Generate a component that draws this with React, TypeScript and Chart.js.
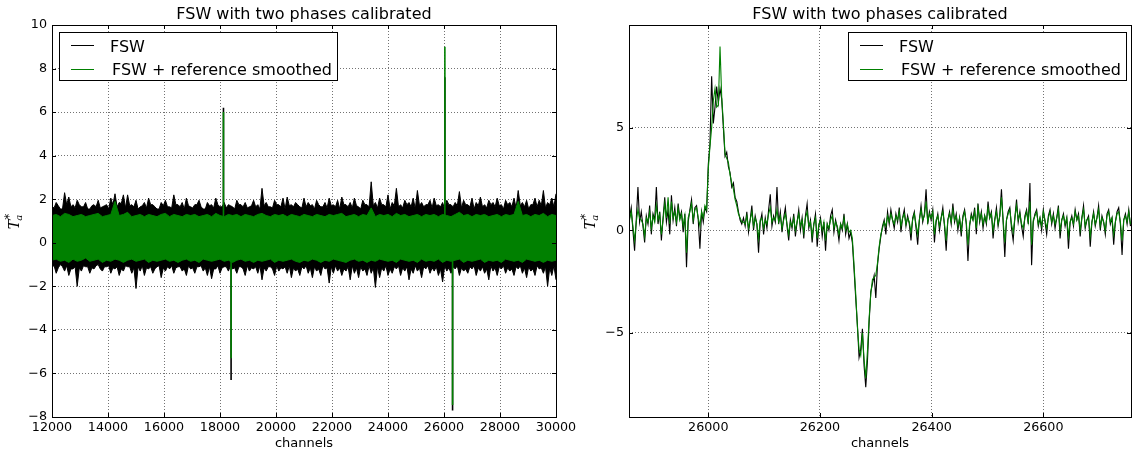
import React, { useEffect, useRef } from 'react';
import { Chart, registerables } from 'chart.js';

Chart.register(...registerables);

const FONT = '"DejaVu Sans", sans-serif';
const BLACK = '#000000';
const GREEN = '#008000';
const GRID_COLOR = 'rgba(0,0,0,0.55)';

const TITLE = 'FSW with two phases calibrated';
const X_LABEL = 'channels';
const SERIES_LABELS = ['FSW', 'FSW + reference smoothed'];

// ---------- Left panel: full spectrum, drawn as the envelope of the noise band ----------
const leftXTicks = [12000, 14000, 16000, 18000, 20000, 22000, 24000, 26000, 28000, 30000];
const leftYTicks = [-8, -6, -4, -2, 0, 2, 4, 6, 8, 10];

// FSW envelope, one value per 75 channels from 12000
const leftFswStart = 12000;
const leftFswStep = 75;
const leftFswHigh = [
  1.65, 1.6, 1.85, 1.7, 1.55, 1.55, 2.3, 1.75, 2.1, 1.65, 1.75, 1.6, 1.95, 1.75, 1.65, 1.65, 1.85, 1.55, 1.55, 1.7,
  1.75, 1.65, 1.95, 1.6, 1.65, 1.7, 1.75, 1.55, 2.05, 1.75, 2.25, 1.65, 1.85, 1.8, 2.2, 1.6, 2.2, 1.7, 1.75, 1.65,
  1.95, 1.55, 1.65, 1.7, 1.85, 1.6, 2.05, 1.75, 1.75, 1.65, 1.55, 1.55, 1.85, 1.7, 1.95, 1.65, 1.65, 1.6, 2.2, 1.75,
  1.75, 1.65, 1.85, 1.55, 2.05, 1.7, 1.65, 1.6, 1.75, 1.75, 1.95, 1.65, 1.55, 1.55, 1.85, 1.7, 1.75, 1.6, 2.05, 1.75,
  1.65, 1.65, 1.85, 1.6, 1.75, 1.7, 1.65, 1.55, 1.95, 1.75, 1.75, 1.65, 1.85, 1.6, 1.65, 1.7, 1.95, 1.65, 1.75, 1.55,
  2.5, 1.7, 1.85, 1.65, 1.65, 1.6, 1.95, 1.75, 1.75, 1.65, 2.05, 1.55, 2.1, 1.7, 1.75, 1.65, 1.85, 1.75, 1.65, 1.6,
  2.05, 1.65, 1.85, 1.7, 1.75, 1.55, 1.95, 1.75, 1.65, 1.65, 1.85, 1.6, 2.05, 1.7, 1.75, 1.65, 1.95, 1.55, 2.1, 1.75,
  1.75, 1.65, 1.85, 1.6, 2.05, 1.7, 1.65, 1.55, 1.95, 1.75, 1.75, 1.65, 2.8, 1.7, 1.85, 1.6, 2.05, 1.75, 1.75, 1.65,
  2.2, 1.55, 1.85, 1.7, 2.5, 1.65, 1.75, 1.6, 1.95, 1.75, 1.85, 1.65, 2.05, 1.55, 2.4, 1.7, 1.85, 1.65, 1.75, 1.75,
  1.95, 1.6, 2.05, 1.7, 1.75, 1.65, 1.85, 1.55, 1.95, 1.75, 1.75, 1.65, 1.85, 1.7, 2.35, 1.6, 1.95, 1.75, 1.75, 1.65,
  2.05, 1.55, 1.85, 1.7, 2.1, 1.65, 1.75, 1.6, 1.95, 1.75, 1.85, 1.65, 2.05, 1.7, 1.75, 1.55, 1.95, 1.75, 1.85, 1.65,
  2.05, 1.6, 2.4, 1.7, 1.85, 1.65, 1.95, 1.55, 1.75, 1.75, 2.05, 1.65, 1.95, 1.7, 2.4, 1.6, 1.85, 1.75, 2.05, 1.65,
  2.25,
];
const leftFswLow = [
  -1.1, -1.05, -1.4, -1.15, -1.0, -1.1, -1.3, -1.05, -1.5, -1.2, -1.2, -1.1, -2.0, -1.15, -1.3, -1.05, -1.1, -1.1, -1.4, -1.15,
  -1.2, -1.05, -1.0, -1.2, -1.3, -1.1, -1.1, -1.05, -1.4, -1.15, -1.2, -1.1, -1.5, -1.2, -1.3, -1.05, -1.1, -1.1, -1.4, -1.15,
  -2.1, -1.1, -1.3, -1.05, -1.5, -1.15, -1.2, -1.1, -1.4, -1.2, -1.1, -1.05, -1.6, -1.15, -1.3, -1.1, -1.2, -1.05, -1.4, -1.15,
  -1.1, -1.1, -1.3, -1.2, -1.5, -1.05, -1.2, -1.15, -1.4, -1.1, -1.1, -1.05, -1.3, -1.15, -1.5, -1.1, -1.65, -1.2, -1.2, -1.05,
  -1.4, -1.15, -1.1, -1.1, -1.3, -1.05, -1.2, -1.15, -1.4, -1.1, -1.1, -1.2, -1.5, -1.05, -1.3, -1.15, -1.2, -1.1, -1.4, -1.05,
  -1.7, -1.15, -1.3, -1.1, -1.1, -1.2, -1.5, -1.05, -1.3, -1.15, -1.2, -1.1, -1.4, -1.05, -1.6, -1.15, -1.3, -1.2, -1.5, -1.1,
  -1.2, -1.05, -1.4, -1.15, -1.6, -1.1, -1.3, -1.2, -1.5, -1.05, -1.2, -1.15, -1.85, -1.1, -1.4, -1.05, -1.3, -1.15, -1.5, -1.2,
  -1.3, -1.1, -1.7, -1.05, -1.4, -1.15, -1.6, -1.1, -1.3, -1.2, -1.5, -1.05, -1.4, -1.15, -2.05, -1.1, -1.6, -1.15, -1.3, -1.05,
  -1.5, -1.2, -1.4, -1.1, -1.2, -1.05, -1.5, -1.15, -1.3, -1.1, -1.7, -1.2, -1.4, -1.05, -1.3, -1.15, -1.6, -1.1, -1.2, -1.05,
  -1.4, -1.15, -1.3, -1.1, -1.5, -1.2, -1.8, -1.05, -1.3, -1.15, -1.4, -1.1, -1.2, -1.05, -1.5, -1.15, -1.3, -1.2, -1.4, -1.1,
  -1.2, -1.05, -1.5, -1.15, -1.3, -1.1, -1.4, -1.2, -1.7, -1.05, -1.3, -1.15, -1.5, -1.1, -1.2, -1.05, -1.4, -1.15, -1.3, -1.2,
  -1.5, -1.1, -1.2, -1.05, -1.4, -1.15, -1.6, -1.1, -1.3, -1.2, -1.5, -1.05, -1.2, -1.15, -1.4, -1.1, -2.0, -1.15, -1.5, -1.05,
  -1.7,
];

// Smoothed envelope, one value per 150 channels from 12000
const leftSmoothStart = 12000;
const leftSmoothStep = 150;
const leftSmoothHigh = [
  1.25, 1.3, 1.2, 1.35, 1.3, 1.2, 1.25, 1.3, 1.2, 1.25,
  1.3, 1.35, 1.2, 1.25, 1.3, 1.9, 1.25, 1.3, 1.4, 1.2,
  1.25, 1.3, 1.2, 1.3, 1.25, 1.2, 1.3, 1.35, 1.2, 1.3,
  1.25, 1.2, 1.3, 1.25, 1.3, 1.2, 1.25, 1.3, 1.2, 1.35,
  1.25, 1.2, 1.3, 1.25, 1.3, 1.2, 1.3, 1.25, 1.2, 1.3,
  1.35, 1.25, 1.2, 1.3, 1.25, 1.3, 1.2, 1.3, 1.25, 1.2,
  1.3, 1.25, 1.2, 1.3, 1.25, 1.2, 1.3, 1.25, 1.3, 1.35,
  1.2, 1.25, 1.3, 1.2, 1.3, 1.25, 1.6, 1.2, 1.3, 1.25,
  1.3, 1.2, 1.35, 1.25, 1.3, 1.2, 1.25, 1.3, 1.2, 1.3,
  1.25, 1.3, 1.2, 1.3, 1.25, 1.2, 1.3, 1.4, 1.25, 1.3,
  1.2, 1.3, 1.25, 1.3, 1.2, 1.25, 1.3, 1.2, 1.3, 1.25,
  1.3, 1.9, 1.25, 1.3, 1.2, 1.3, 1.25, 1.35, 1.2, 1.3,
  1.25,
];
const leftSmoothLow = [
  -0.8, -0.75, -0.85, -0.8, -0.9, -0.75, -0.85, -0.8, -0.7, -0.85,
  -0.8, -0.75, -0.9, -0.8, -0.85, -0.75, -0.8, -0.9, -0.8, -0.75,
  -0.85, -0.8, -0.75, -0.9, -0.8, -0.85, -0.8, -0.75, -0.85, -0.8,
  -0.9, -0.8, -0.75, -0.85, -0.8, -0.9, -0.75, -0.8, -0.85, -0.8,
  -0.75, -0.85, -0.8, -0.9, -0.8, -0.75, -0.85, -0.8, -0.9, -0.8,
  -0.85, -0.8, -0.75, -0.9, -0.8, -0.85, -0.8, -0.75, -0.85, -0.9,
  -0.8, -0.85, -0.75, -0.8, -0.9, -0.8, -0.85, -0.75, -0.8, -0.85,
  -0.9, -0.8, -0.75, -0.85, -0.8, -0.9, -0.8, -0.85, -0.75, -0.8,
  -0.85, -0.8, -0.9, -0.75, -0.8, -0.85, -0.8, -0.9, -0.75, -0.85,
  -0.8, -0.85, -0.75, -0.9, -0.8, -0.85, -0.8, -0.75, -0.9, -0.8,
  -0.85, -0.8, -0.75, -0.9, -0.8, -0.85, -0.8, -0.9, -0.75, -0.8,
  -0.85, -0.8, -0.9, -0.75, -0.8, -0.85, -0.8, -0.9, -0.8, -0.85,
  -0.8,
];

// Narrow line features that stick out of the noise band (channel, peak value)
const spikeChannels = [18124, 18396, 26031, 26306];
const spikeFsw = [6.2, -6.3, 7.6, -7.7];
const spikeSmooth = [6.0, -5.3, 9.0, -7.45];

// ---------- Right panel: zoom on 25858..26757, every 3rd channel from 25859 ----------
const rightXTicks = [26000, 26200, 26400, 26600];
const rightYTicks = [-5, 0, 5];
const rightStart = 25859;
const rightStep = 3;

const rightFsw = [
  // 25859 .. 25997
  0.6, 1.1, 0.0, -1.0, 0.5, 2.1, 0.4, 0.9, 0.2, -0.6,
  0.7, 0.3, 1.2, -0.2, 0.8, 0.5, 2.1, 0.3, 0.9, -0.5,
  0.6, 1.6, 0.4, 1.0, -0.2, 1.7, 0.5, 1.1, 0.2, 1.3,
  0.6, 0.9, -0.1, 0.8, -1.8, 0.4, 1.0, 1.5, 0.3, 1.1,
  1.2, 0.5, -0.9, 0.9, 0.4, 1.1, 0.9,
  // 26000 .. 26060
  3.2, 4.2, 7.5, 5.2, 6.0, 7.0, 6.2, 6.9, 6.4, 5.0,
  3.6, 3.8, 3.1, 2.8, 2.1, 2.3, 1.6, 1.4, 0.9, 0.5, 0.3,
  // 26063 .. 26255
  0.6, 0.2, 0.9, -0.1, 0.5, 1.2, 0.0, 0.7, 0.3, -1.1,
  0.4, 0.8, -0.2, 0.6, 0.1, 1.0, 1.75, 0.2, 0.7, 0.4,
  2.1, 0.3, 0.9, -0.1, 0.6, 1.1, 0.2, -0.5, 0.5, 0.1,
  0.8, -0.3, 0.4, 1.0, 0.0, 0.6, -0.4, 0.7, 1.3, 0.1,
  0.5, -0.6, 0.3, 0.8, -0.8, 0.2, 0.6, -0.3, 0.4, -1.0,
  0.3, 0.0, 0.7, 1.0, -0.1, 0.5, 0.1, -0.5, 0.3, 0.0,
  0.8, -0.2, 0.3, -0.4, -0.1,
  // 26258 .. 26321
  -0.6, -1.9, -3.3, -4.6, -6.2, -5.8, -4.8, -6.6, -7.65, -6.4,
  -4.5, -3.0, -2.6, -2.2, -3.3, -1.7, -0.9, -0.3, 0.2, 0.5, -0.2, 0.9,
  // 26324 .. 26756
  0.3, 1.0, 0.5, 0.1, 0.8, 0.4, 1.1, -0.1, 0.6, 1.0,
  0.2, 0.7, 0.3, -0.5, 0.6, 0.9, 0.1, -0.7, 0.5, 1.2,
  0.4, 0.8, 2.0, 0.3, 0.9, 0.5, 1.0, -0.6, 0.4, 0.8,
  0.0, 0.6, 1.1, 0.2, -1.0, 0.5, 0.9, 0.3, 1.3, 0.4,
  0.8, 0.0, 0.6, -0.3, 0.7, 1.0, 0.3, -1.5, 0.2, 0.8,
  0.5, 1.1, -0.2, 1.3, 0.4, 0.9, 0.1, 0.7, 0.3, 1.4,
  0.6, 0.9, -0.4, 0.5, 1.1, 0.2, 0.7, 2.0, 0.4, -1.3,
  0.5, 0.9, 1.1, 0.1, -0.5, 0.6, 1.5, 0.4, 0.9, 0.2,
  -0.3, 0.7, 1.0, 0.3, 2.3, -1.7, 0.4, 0.8, 1.0, 0.2,
  0.6, 0.0, 1.0, 0.4, -0.2, 0.7, 1.0, 0.3, 0.8, 0.1,
  0.6, 1.2, -0.4, 0.5, 0.8, 0.2, 0.6, -0.9, 0.4, 0.7,
  0.2, 1.0, 0.5, 0.8, -0.3, 0.6, 1.2, 0.1, 0.5, 0.7,
  -0.8, 0.4, 0.9, 0.2, 0.6, 1.2, 0.0, 0.7, 0.4, -0.2,
  0.8, 1.0, 0.3, 0.6, -0.7, 0.4, 0.9, 1.1, 0.3, -1.2,
  0.5, 0.8, 0.3, 1.0, 0.2,
];
const rightSmooth = [
  // 25859 .. 25997
  0.5, 0.9, 0.2, -0.5, 0.4, 1.0, 0.6, 0.5, 0.3, -0.3,
  0.6, 0.4, 0.9, 0.1, 0.7, 0.4, 1.2, 0.5, 0.8, -0.2,
  0.5, 1.3, 0.6, 1.6, 0.3, 1.4, 0.6, 0.9, 0.4, 1.1,
  0.5, 0.8, 0.2, 0.7, -1.1, 0.6, 0.9, 1.3, 0.5, 1.0,
  1.1, 0.6, 0.2, 0.9, 0.6, 1.2, 1.0,
  // 26000 .. 26060
  3.0, 4.1, 5.0, 6.3, 6.9, 6.0, 6.1, 8.95, 6.5, 5.2,
  3.7, 3.5, 3.3, 2.7, 2.3, 2.0, 1.5, 1.2, 0.8, 0.6, 0.4,
  // 26063 .. 26255
  0.4, 0.3, 0.7, 0.1, 0.5, 0.9, 0.2, 0.6, 0.3, -0.4,
  0.5, 0.6, 0.1, 0.5, 0.3, 0.8, 1.1, 0.4, 0.6, 0.5,
  1.0, 0.4, 0.7, 0.1, 0.5, 0.8, 0.3, -0.2, 0.4, 0.2,
  0.6, 0.0, 0.4, 0.8, 0.2, 0.5, -0.1, 0.6, 0.9, 0.2,
  0.4, -0.3, 0.3, 0.6, -0.4, 0.3, 0.5, 0.0, 0.4, -0.5,
  0.3, 0.1, 0.5, 0.7, 0.1, 0.4, 0.2, -0.2, 0.3, 0.1,
  0.6, 0.0, 0.3, -0.1, 0.0,
  // 26258 .. 26321
  -0.4, -1.7, -3.1, -4.7, -5.8, -6.1, -5.0, -6.3, -7.2, -5.9,
  -4.3, -3.1, -2.4, -2.3, -2.2, -1.6, -0.8, -0.2, 0.1, 0.4, 0.2, 0.7,
  // 26324 .. 26756
  0.4, 0.8, 0.5, 0.3, 0.7, 0.5, 0.9, 0.2, 0.6, 0.8,
  0.3, 0.6, 0.4, -0.1, 0.5, 0.8, 0.3, -0.2, 0.5, 1.0,
  0.5, 0.7, 1.4, 0.4, 0.8, 0.6, 0.9, -0.2, 0.5, 0.7,
  0.2, 0.6, 0.9, 0.3, -0.5, 0.5, 0.8, 0.4, 1.0, 0.5,
  0.7, 0.2, 0.6, 0.0, 0.6, 0.9, 0.4, -0.7, 0.3, 0.7,
  0.5, 0.9, 0.1, 1.1, 0.5, 0.8, 0.3, 0.7, 0.4, 1.1,
  0.6, 0.8, 0.0, 0.5, 0.9, 0.3, 0.7, 1.6, 0.5, -0.6,
  0.5, 0.8, 1.0, 0.3, -0.1, 0.6, 1.2, 0.5, 0.8, 0.3,
  0.1, 0.6, 0.9, 0.4, 1.4, -0.7, 0.5, 0.7, 0.9, 0.3,
  0.6, 0.2, 0.9, 0.5, 0.1, 0.6, 0.9, 0.4, 0.7, 0.3,
  0.6, 1.0, 0.0, 0.5, 0.7, 0.3, 0.6, -0.3, 0.4, 0.6,
  0.3, 0.9, 0.5, 0.7, 0.0, 0.6, 1.0, 0.2, 0.5, 0.6,
  -0.3, 0.4, 0.8, 0.3, 0.6, 1.0, 0.2, 0.6, 0.4, 0.0,
  0.7, 0.9, 0.4, 0.6, -0.2, 0.4, 0.8, 0.9, 0.4, -0.5,
  0.5, 0.7, 0.4, 0.9, 0.3,
];

// ---------- helpers ----------
const seriesPoints = (ys: number[], start: number, step: number) =>
  ys.map((y, i) => ({ x: start + i * step, y }));

const spikePoints = (peaks: number[]) => {
  const out: { x: number; y: number | null }[] = [];
  spikeChannels.forEach((c, i) => {
    out.push({ x: c, y: 0 }, { x: c, y: peaks[i] }, { x: c, y: null });
  });
  return out;
};

const fmtNum = (v: number) => (v < 0 ? '\u2212' + Math.abs(v) : String(v));

function drawYLabel(ctx: CanvasRenderingContext2D, cx: number, cy: number) {
  ctx.save();
  ctx.translate(cx, cy);
  ctx.rotate(-Math.PI / 2);
  ctx.fillStyle = BLACK;
  ctx.textBaseline = 'alphabetic';
  ctx.textAlign = 'left';
  const big = 'italic 14px "DejaVu Serif", serif';
  const small = 'italic 10px "DejaVu Serif", serif';
  ctx.font = big;
  const wT = ctx.measureText('T').width;
  ctx.font = small;
  const wa = ctx.measureText('a').width;
  const total = wT + wa + 1;
  const x0 = -total / 2;
  const base = 4;
  ctx.font = big;
  ctx.fillText('T', x0, base);
  ctx.font = small;
  ctx.fillText('a', x0 + wT - 1, base + 3);
  ctx.font = '12px "DejaVu Sans", sans-serif';
  ctx.fillText('*', x0 + wT, base - 6);
  ctx.restore();
}

type DecorCfg = {
  xTicks: number[];
  yTicks: number[];
  legendX: number;
  legendY: number;
};

function makeDecor(cfg: DecorCfg) {
  return {
    id: 'decor',
    afterDatasetsDraw(chart: any) {
      const ctx: CanvasRenderingContext2D = chart.ctx;
      const a = chart.chartArea;
      const sx = chart.scales.x;
      const sy = chart.scales.y;
      const L = Math.round(a.left);
      const R = Math.round(a.right);
      const T = Math.round(a.top);
      const B = Math.round(a.bottom);
      ctx.save();
      ctx.setLineDash([]);
      ctx.strokeStyle = BLACK;
      ctx.lineWidth = 1;
      // inward tick marks on all four sides
      ctx.beginPath();
      for (const v of cfg.xTicks) {
        const p = Math.round(sx.getPixelForValue(v)) + 0.5;
        ctx.moveTo(p, B);
        ctx.lineTo(p, B - 4);
        ctx.moveTo(p, T);
        ctx.lineTo(p, T + 4);
      }
      for (const v of cfg.yTicks) {
        const p = Math.round(sy.getPixelForValue(v)) + 0.5;
        ctx.moveTo(L, p);
        ctx.lineTo(L + 4, p);
        ctx.moveTo(R, p);
        ctx.lineTo(R - 4, p);
      }
      ctx.stroke();
      // frame
      ctx.strokeRect(L + 0.5, T + 0.5, R - L, B - T);

      // legend
      const bx = cfg.legendX;
      const by = cfg.legendY;
      const bw = 278;
      const bh = 48;
      ctx.fillStyle = '#ffffff';
      ctx.fillRect(bx, by, bw + 1, bh + 1);
      ctx.strokeStyle = BLACK;
      ctx.strokeRect(bx + 0.5, by + 0.5, bw, bh);
      const rows = [
        { label: SERIES_LABELS[0], color: BLACK, ly: by + 13.5, tx: bx + 51, ty: by + 19.7 },
        { label: SERIES_LABELS[1], color: GREEN, ly: by + 37.5, tx: bx + 53, ty: by + 43.2 },
      ];
      ctx.font = '16px ' + FONT;
      ctx.textAlign = 'left';
      ctx.textBaseline = 'alphabetic';
      for (const r of rows) {
        ctx.strokeStyle = r.color;
        ctx.beginPath();
        ctx.moveTo(bx + 12, r.ly);
        ctx.lineTo(bx + 35, r.ly);
        ctx.stroke();
        ctx.fillStyle = BLACK;
        ctx.fillText(r.label, r.tx, r.ty);
      }

      // title, x label, y label
      const cx = (L + R) / 2;
      ctx.fillStyle = BLACK;
      ctx.textAlign = 'center';
      ctx.font = '16px ' + FONT;
      ctx.fillText(TITLE, cx, 19);
      ctx.font = '13px ' + FONT;
      ctx.fillText(X_LABEL, cx, 447);
      drawYLabel(ctx, 15, (T + B) / 2);
      ctx.restore();
    },
  };
}

type PanelCfg = {
  xMin: number;
  xMax: number;
  yMin: number;
  yMax: number;
  xTicks: number[];
  yTicks: number[];
  yAxisWidth: number;
  padRight: number;
  datasets: any[];
  legendX: number;
  legendY: number;
};

function buildConfig(p: PanelCfg): any {
  const tickFont = { family: FONT, size: 12.7 };
  return {
    type: 'line',
    data: { datasets: p.datasets },
    plugins: [makeDecor({ xTicks: p.xTicks, yTicks: p.yTicks, legendX: p.legendX, legendY: p.legendY })],
    options: {
      responsive: false,
      animation: false,
      devicePixelRatio: 1,
      events: [],
      layout: { padding: { left: 0, right: p.padRight, top: 25, bottom: 0 } },
      plugins: { legend: { display: false }, tooltip: { enabled: false }, title: { display: false } },
      elements: { point: { radius: 0 }, line: { tension: 0 } },
      scales: {
        x: {
          type: 'linear',
          min: p.xMin,
          max: p.xMax,
          afterBuildTicks: (s: any) => {
            s.ticks = p.xTicks.map((v) => ({ value: v }));
          },
          afterFit: (s: any) => {
            s.height = 35;
            s.paddingLeft = 0;
            s.paddingRight = 0;
          },
          ticks: {
            autoSkip: false,
            maxRotation: 0,
            minRotation: 0,
            padding: 3,
            color: BLACK,
            font: tickFont,
            callback: (v: number) => fmtNum(v),
          },
          grid: { color: GRID_COLOR, lineWidth: 1, drawTicks: false },
          border: { display: false, dash: [1, 2] },
        },
        y: {
          type: 'linear',
          min: p.yMin,
          max: p.yMax,
          afterBuildTicks: (s: any) => {
            s.ticks = p.yTicks.map((v) => ({ value: v }));
          },
          afterFit: (s: any) => {
            s.width = p.yAxisWidth;
            s.paddingTop = 0;
            s.paddingBottom = 0;
          },
          ticks: {
            autoSkip: false,
            padding: 5,
            color: BLACK,
            font: tickFont,
            callback: (v: number) => fmtNum(v),
          },
          grid: { color: GRID_COLOR, lineWidth: 1, drawTicks: false },
          border: { display: false, dash: [1, 2] },
        },
      },
    },
  };
}

const leftConfig = (): any =>
  buildConfig({
    xMin: 12000,
    xMax: 30000,
    yMin: -8,
    yMax: 10,
    xTicks: leftXTicks,
    yTicks: leftYTicks,
    yAxisWidth: 52,
    padRight: 24,
    legendX: 59,
    legendY: 32,
    datasets: [
      {
        label: SERIES_LABELS[1],
        data: seriesPoints(leftSmoothHigh, leftSmoothStart, leftSmoothStep),
        borderColor: GREEN,
        backgroundColor: GREEN,
        borderWidth: 1,
        pointRadius: 0,
        fill: '+1',
        order: 0,
      },
      {
        label: SERIES_LABELS[1] + ' (low)',
        data: seriesPoints(leftSmoothLow, leftSmoothStart, leftSmoothStep),
        borderColor: GREEN,
        borderWidth: 1,
        pointRadius: 0,
        fill: false,
        order: 0,
      },
      {
        label: SERIES_LABELS[1] + ' (lines)',
        data: spikePoints(spikeSmooth),
        borderColor: GREEN,
        borderWidth: 1.6,
        pointRadius: 0,
        fill: false,
        spanGaps: false,
        order: 0,
      },
      {
        label: SERIES_LABELS[0],
        data: seriesPoints(leftFswHigh, leftFswStart, leftFswStep),
        borderColor: BLACK,
        backgroundColor: BLACK,
        borderWidth: 1,
        pointRadius: 0,
        fill: '+1',
        order: 1,
      },
      {
        label: SERIES_LABELS[0] + ' (low)',
        data: seriesPoints(leftFswLow, leftFswStart, leftFswStep),
        borderColor: BLACK,
        borderWidth: 1,
        pointRadius: 0,
        fill: false,
        order: 1,
      },
      {
        label: SERIES_LABELS[0] + ' (lines)',
        data: spikePoints(spikeFsw),
        borderColor: BLACK,
        borderWidth: 1.6,
        pointRadius: 0,
        fill: false,
        spanGaps: false,
        order: 1,
      },
    ],
  });

const rightConfig = (): any =>
  buildConfig({
    xMin: 25858,
    xMax: 26757,
    yMin: -9.1,
    yMax: 10,
    xTicks: rightXTicks,
    yTicks: rightYTicks,
    yAxisWidth: 53,
    padRight: 1,
    legendX: 272,
    legendY: 32,
    datasets: [
      {
        label: SERIES_LABELS[1],
        data: seriesPoints(rightSmooth, rightStart, rightStep),
        borderColor: GREEN,
        borderWidth: 1.1,
        pointRadius: 0,
        fill: false,
        order: 0,
      },
      {
        label: SERIES_LABELS[0],
        data: seriesPoints(rightFsw, rightStart, rightStep),
        borderColor: BLACK,
        borderWidth: 1.1,
        pointRadius: 0,
        fill: false,
        order: 1,
      },
    ],
  });

function Panel({ makeConfig, left, width }: { makeConfig: () => any; left: number; width: number }) {
  const ref = useRef<HTMLCanvasElement | null>(null);
  useEffect(() => {
    if (!ref.current) return;
    const chart = new Chart(ref.current, makeConfig());
    return () => chart.destroy();
  }, []);
  return (
    <canvas
      ref={ref}
      width={width}
      height={452}
      style={{ position: 'absolute', left, top: 0, width, height: 452 }}
    />
  );
}

export default function App() {
  return (
    <div
      style={{
        position: 'fixed',
        left: 0,
        top: 0,
        width: 1132,
        height: 452,
        background: '#ffffff',
        overflow: 'hidden',
      }}
    >
      <Panel makeConfig={leftConfig} left={0} width={580} />
      <Panel makeConfig={rightConfig} left={576} width={556} />
    </div>
  );
}
